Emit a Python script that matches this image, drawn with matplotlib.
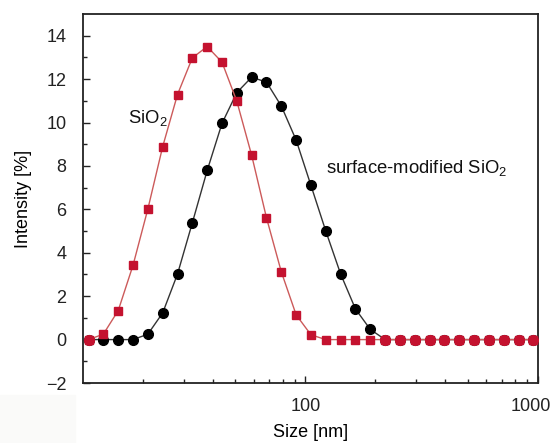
import matplotlib
matplotlib.use("Agg")
import matplotlib.pyplot as plt
import matplotlib.transforms as mtransforms
import numpy as np
from matplotlib.ticker import FixedLocator, LogLocator, NullFormatter, FixedFormatter

plt.rcParams['font.family'] = ['Liberation Sans', 'DejaVu Sans']
plt.rcParams['mathtext.fontset'] = 'custom'
plt.rcParams['mathtext.rm'] = 'Liberation Sans'

# size bins (nm)
size_nm = [11.7, 13.54, 15.69, 18.17, 21.04, 24.36, 28.21, 32.67, 37.84, 43.82,
           50.75, 58.77, 68.06, 78.82, 91.28, 105.7, 122.4, 141.8, 164.2, 190.1,
           220.2, 255.0, 295.3, 342.0, 396.1, 458.7, 531.2, 615.1, 712.4, 825.0, 955.4]

# intensity (%) of bare SiO2
sio2 = [0, 0.25, 1.34, 3.43, 6.02, 8.89, 11.29, 12.98, 13.5, 12.78,
        10.98, 8.49, 5.61, 3.12, 1.14, 0.22, 0, 0, 0, 0,
        0, 0, 0, 0, 0, 0, 0, 0, 0, 0, 0]

# intensity (%) of surface-modified SiO2
sio2_mod = [0, 0, 0, 0, 0.25, 1.23, 3.02, 5.38, 7.79, 9.96,
            11.38, 12.09, 11.86, 10.76, 9.19, 7.1, 5.0, 3.02, 1.41, 0.47,
            0, 0, 0, 0, 0, 0, 0, 0, 0, 0, 0]

x = np.array(size_nm)
y1 = np.array(sio2)
y2 = np.array(sio2_mod)

red = '#c4122f'
red_line = '#cc5a5a'

fig = plt.figure(figsize=(5.55, 4.43), dpi=100)
fig.patches.append(plt.Rectangle((0, 0), 75 / 555, 48 / 443, transform=fig.transFigure,
                                 color='#fafaf9', zorder=0))
ax = fig.add_axes([83 / 555, 60 / 443, 455 / 555, 369 / 443])

ax.plot(x, y2, color='#333333', linewidth=1.0, marker='o', markersize=7,
        markerfacecolor='black', markeredgecolor='black', zorder=2)
ax.plot(x, y1, color=red_line, linewidth=1.0, marker='s', markersize=6,
        markerfacecolor=red, markeredgecolor=red, zorder=3)
both_zero = (y1 == 0) & (y2 == 0)
ax.plot(x[both_zero], y1[both_zero], linestyle='none', marker='o', markersize=7,
        markerfacecolor=red, markeredgecolor=red, zorder=4)

ax.set_xscale('log')
ax.set_xlim(11.07, 1000)
ax.set_ylim(-2, 15)

ax.xaxis.set_major_locator(FixedLocator([100, 1000]))
ax.xaxis.set_major_formatter(FixedFormatter(['100', '1000']))
ax.xaxis.set_minor_locator(LogLocator(base=10, subs=np.arange(2, 10)))
ax.xaxis.set_minor_formatter(NullFormatter())
ax.set_yticks(np.arange(-2, 15, 2))
ax.set_yticklabels(['\u22122' if v == -2 else str(v) for v in range(-2, 15, 2)])
ax.yaxis.set_minor_locator(FixedLocator(np.arange(-1, 15, 2)))

ax.tick_params(which='both', direction='in', top=False, right=False, labelsize=13,
               width=1.0, colors='#222222')
ax.tick_params(which='major', length=5)
ax.tick_params(which='minor', length=3)
ax.tick_params(axis='x', which='major', pad=11)
ax.tick_params(axis='y', which='major', pad=12)

# nudge the last x label left so it stays inside the figure
fig.canvas.draw()
lbl = ax.get_xticklabels()[-1]
lbl.set_transform(lbl.get_transform() + mtransforms.ScaledTranslation(-7 / 100, 0, fig.dpi_scale_trans))

for s in ax.spines.values():
    s.set_linewidth(1.3)
    s.set_color('#222222')

ax.set_xlabel('Size [nm]', fontsize=13, labelpad=6)
ax.set_ylabel('Intensity [%]', fontsize=13, labelpad=10)

ax.text(17.3, 10.0, 'SiO$_2$', fontsize=13.3, va='baseline', ha='left', color='#111111')
ax.text(122.2, 7.68, 'surface-modified SiO$_2$', fontsize=13.3, va='baseline', ha='left',
        color='#111111')

plt.savefig('out.png', dpi=100)
